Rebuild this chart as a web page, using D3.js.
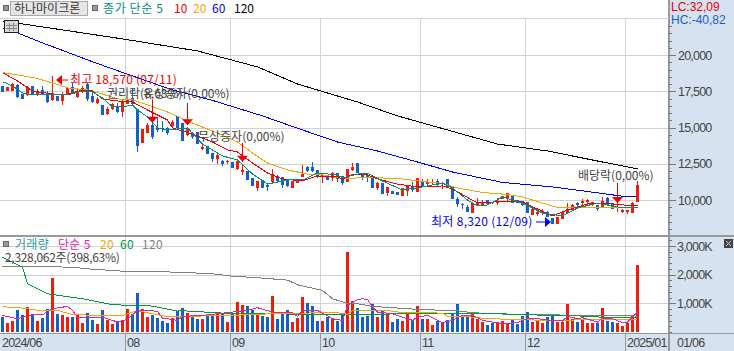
<!DOCTYPE html>
<html>
<head>
<meta charset="utf-8">
<script src="https://cdn.jsdelivr.net/npm/d3@7"></script>
<style>
html, body { margin: 0; padding: 0; background: #fff; overflow: hidden; }
svg { display: block; }
text { font-family: "Noto Sans CJK KR", "Liberation Sans", sans-serif; font-size: 12px; }
</style>
</head>
<body>
<div id="chart"></div>
<script>
// daily candles
var opens = [17870,17540,17520,17960,17290,17250,17870,17290,17590,17380,16900,17200,16850,17250,17770,17080,17430,18000,17200,16670,16580,15930,16280,16390,16070,16620,17020,16300,13960,14650,15180,14950,14950,14990,
  15110,15820,15340,14490,14600,14670,13540,13750,13220,12850,12670,12620,12650,12140,11930,12020,11520,10800,11380,11040,11240,11660,11560,11450,10850,11200,11590,12300,12250,12070,11560,11630,11500,11840,
  11680,11270,12070,12530,11730,11730,11660,10800,11200,10510,10640,10580,10300,10640,10970,10530,11330,11100,11200,11330,11080,11430,10870,10050,9720,9490,9130,9660,9660,10000,9890,9770,10050,10050,
  10350,10000,9950,9890,8970,9030,9130,9170,8740,8320,8690,9130,9310,9820,9820,9890,9770,9660,9430,10120,9770,9490,9150,9200,9130,9840];
var closes = [17480,17820,18000,17080,16970,17820,17270,17540,17310,16790,17380,16830,17310,17730,17480,17540,17700,16950,16760,16970,15840,16280,16600,16050,16790,16900,16600,13730,14900,15180,14320,14830,14880,14650,
  15400,14950,14050,14950,14370,13840,13680,13170,12830,13100,12460,12690,12210,12710,12090,11360,10970,11290,10800,10870,11790,11310,11010,10970,11290,11450,11790,12020,12000,11610,11700,11380,11890,11470,
  11150,12120,12300,11840,11560,11560,10850,11150,10410,10920,10440,10350,10800,10970,10690,11500,10970,11270,11270,11040,11150,10920,10090,9700,9660,9200,9770,9820,9890,9720,9770,9930,10280,10460,
  9770,9820,9660,9080,9360,9200,9240,8850,8320,8800,9150,9360,9660,9660,9950,10000,9840,9360,9950,9660,9380,9540,9310,9310,9820,11040];
var highs = [17870,17820,18050,18000,17290,17890,17870,17640,17870,17540,18570,17200,17480,17730,18100,17640,17870,18100,17480,17130,16580,16390,16670,16670,16900,16900,17700,16300,14900,15290,15300,15700,15470,15060,
  15520,15820,15340,15060,14720,14670,13840,13750,13220,13170,12760,12760,12650,12810,12420,12020,11520,11290,11380,11150,12120,11730,11610,11450,11290,11450,12420,12350,12650,12070,11730,11630,11960,11840,
  11680,12120,12530,12530,11840,11840,11660,11270,11200,10920,10640,10580,10800,10970,11270,11500,11430,11430,11430,11430,11270,11430,10870,10230,9820,9660,9770,10120,10000,10000,9890,10120,10280,10460,
  10350,10000,9950,9890,9360,9260,9360,9240,8740,8800,9150,9770,9720,9890,10050,10070,9890,9660,10180,10180,9770,9770,9380,9310,9890,11330];
var lows = [17480,17540,17520,17020,16970,17180,17270,17180,17310,16720,16850,16830,16560,17250,17480,17040,17360,16850,16670,16620,15840,15840,16210,16030,15700,16620,16600,13340,13960,14650,14190,14720,14720,14490,
  15010,14950,14050,14440,14190,13840,13450,13170,12650,12480,12370,12480,12210,12070,11700,11360,10970,10640,10800,10640,11200,11220,10800,10870,10850,11200,11560,11930,11960,11500,11200,11380,11310,11270,
  11040,11270,12000,11840,11380,11270,10850,10690,10410,10300,10440,10350,10300,10300,10580,10530,10970,10990,11080,10970,10760,10920,10090,9540,9360,9200,9130,9590,9590,9720,9700,9660,10050,9950,
  9770,9820,9590,9080,8970,8920,8970,8850,8320,8320,8690,9030,9310,9490,9660,9660,9610,9260,9430,9660,9380,9150,9080,9030,9130,9840];
// volume in thousands of shares
var volumes = [510,313,383,754,580,858,638,371,487,789,1868,615,580,510,510,603,302,650,406,267,754,406,267,336,429,789,615,1346,789,510,580,476,371,302,476,719,
  824,650,510,441,441,545,545,615,650,336,615,1032,928,893,754,615,545,510,1241,441,615,754,336,476,1206,998,893,371,371,510,476,371,580,2807,1067,824,
  510,545,963,510,719,650,336,441,371,615,406,893,441,441,232,371,302,406,615,963,545,545,650,441,336,232,302,336,371,302,406,267,545,684,336,406,
  302,510,545,336,336,963,441,336,441,302,302,302,824,371,336,302,197,302,545,2328];

// moving averages, read at a few bars each
var ma5Idx = [0,2,4,6,8,10,13,16,18,20,22,24,26,27,29,31,33,37,40,44,47,50,53,57,60,63,67,68,71,73,76,80,84,88,90,93,95,97,100,104,108,112,115,119,123,127];
var ma5 = [18160,17870,17380,17250,17310,17250,17250,17520,17450,17040,16420,16420,16560,16210,15730,14970,14830,14970,13860,13040,12760,11790,11100,11380,11380,11860,11730,11520,11790,11860,11310,10690,10900,11170,10830,10000,9590,9660,10210,9790,9100,8900,9450,9790,9520,9450];
var ma10Idx = [0,3,6,10,13,16,18,20,23,26,29,33,34,38,42,45,47,50,53,56,60,63,67,68,70,73,75,79,83,88,90,95,101,104,107,110,113,117,120,124,127];
var ma10 = [18780,18210,17520,17310,17310,17590,17520,16970,16830,16760,16210,15520,14970,14550,14000,13450,13310,12550,11860,11450,11310,11660,11590,11450,11760,11730,11450,11100,10900,10970,10760,9790,9930,9860,9380,8900,9310,9720,9790,9660,9590];
var ma20Idx = [0,3,7,10,13,17,20,23,26,29,33,38,42,47,50,53,57,61,64,67,68,72,76,80,84,88,91,96,101,104,108,111,116,122,127];
var ma20 = [18780,18630,18380,18070,17730,17590,17310,16970,16900,16560,16070,15310,14760,14000,13240,12550,12070,11790,11730,11550,11450,11550,11520,11450,11280,11140,10830,10520,10380,10210,9790,9480,9480,9480,9480];
var ma60Idx = [0,3,8,12,17,22,34,42,52,60,67,75,83,90,100,110,120,125,127];
var ma60 = [21870,21520,20830,20320,19660,19040,17590,16870,15800,14830,14000,13380,12620,11930,11210,10900,10450,10210,10210];
var ma120Idx = [0,12,24,39,51,59,71,79,99,109,119,127];
var ma120 = [22350,21730,21110,20280,19180,18000,16760,15800,13860,13380,12690,12140];

var volMa5Idx = [0,3,6,8,10,13,14,15,20,23,25,27,29,31,32,35,36,40,46,49,51,54,58,59,60,63,66,68,69,71,72,73,74,75,78,82,83,85,88,90,92,94,96,100,103,105,107,110,112,113,115,116,119,120,122,124,125,127];
var volMa5 = [580,464,603,603,812,893,754,522,522,348,441,754,754,719,487,406,545,580,696,754,847,696,673,545,754,754,464,406,928,1125,1160,1137,870,696,638,406,522,580,325,406,580,580,406,290,325,464,464,394,383,545,464,499,348,487,464,325,348,696];
var volMa20Idx = [0,4,8,11,14,20,24,27,29,33,36,46,54,58,66,69,70,78,80,88,89,94,97,105,108,112,115,127];
var volMa20 = [882,835,731,754,603,580,580,742,673,534,545,580,638,638,696,615,754,731,673,661,545,522,464,429,406,383,429,441];
var volMa60Idx = [0,4,5,9,16,22,30,35,36,46,71,95,107,113,122,127];
var volMa60 = [2610,2262,1682,1334,1160,951,905,731,742,638,615,661,592,580,499,522];
var volMa120Idx = [0,14,17,24,35,42,46,52,57,59,64,66,69,71,74,79,84,90,93,97,107,127];
var volMa120 = [2297,2262,2204,2123,2088,2030,1949,1879,1810,1647,1450,1160,998,986,893,835,777,754,696,638,603,557];

var priceTicks = [10000,12500,15000,17500,20000];
var priceMinor = d3.range(8000,22500,500);
var volTicks = [1000,2000,3000];
var volMinor = d3.range(0,3400,200);

// month labels and where they fall (bar index)
var monthLabels = ["2024/06","08","09","10","11","12","2025/01"];
var monthIdx = [-0.4,24.5,45.5,63.5,83.5,104.5,124.5];

// [bar index, price at arrow tip, price at stem top]
var eventArrows = [[30,15330,16870],[37,15150,16690],[48,12640,13940],[123,9800,11170]];
var eventLabels = [
  {text:"권리락(8,63%)", x:107, y:98},
  {text:"유상증자(0,00%)", x:143, y:98},
  {text:"무상증자(0,00%)", x:198, y:141},
  {text:"배당락(0,00%)", x:578, y:180}
];

var w = 734, h = 351;
var plotRight = 669;
var upColor = "#ee1c0c", downColor = "#1560c8", gridColor = "#d2d2d2", frameColor = "#999";

var x = d3.scaleLinear().domain([0,127]).range([2.5,637.5]);
var y = d3.scaleLinear().domain([10000,20000]).range([200,55]);
var yVol = d3.scaleLinear().domain([0,3000]).range([332,246]);

var svg = d3.select("#chart").append("svg").attr("width",w).attr("height",h);

// right and bottom bands
svg.append("rect").attr("x",plotRight).attr("y",0).attr("width",w-plotRight).attr("height",h).attr("fill","#d6e2f0");
svg.append("rect").attr("x",0).attr("y",333).attr("width",w).attr("height",18).attr("fill","#d6e2f0");

// grid
var grid = svg.append("g").attr("stroke",gridColor).attr("shape-rendering","crispEdges");
priceTicks.forEach(function(t) {
  grid.append("line").attr("x1",0).attr("x2",plotRight).attr("y1",Math.round(y(t))+0.5).attr("y2",Math.round(y(t))+0.5);
});
volTicks.forEach(function(t) {
  grid.append("line").attr("x1",0).attr("x2",plotRight).attr("y1",Math.round(yVol(t))+0.5).attr("y2",Math.round(yVol(t))+0.5);
});
monthIdx.slice(1).forEach(function(m) {
  var px = Math.round(x(m))+0.5;
  grid.append("line").attr("x1",px).attr("x2",px).attr("y1",18).attr("y2",333);
  svg.append("line").attr("x1",px).attr("x2",px).attr("y1",333).attr("y2",351).attr("stroke",frameColor).attr("shape-rendering","crispEdges");
});

function drawLine(xs, vals, scale, color) {
  var line = d3.line().x(function(d,i) { return x(xs[i]); }).y(function(d) { return scale(d); });
  svg.append("path").attr("d",line(vals)).attr("fill","none").attr("stroke",color)
    .attr("stroke-width",1).attr("shape-rendering","crispEdges");
}

drawLine(ma120Idx,ma120,y,"#000");
drawLine(ma60Idx,ma60,y,"#0000f0");

// candles
var candles = svg.append("g").attr("shape-rendering","crispEdges");
opens.forEach(function(o,i) {
  var c = closes[i];
  var color = c >= o ? upColor : downColor;
  candles.append("line").attr("x1",x(i)).attr("x2",x(i)).attr("y1",y(highs[i])).attr("y2",y(lows[i])).attr("stroke",color);
  candles.append("rect").attr("x",x(i)-1.5).attr("width",3)
    .attr("y",y(Math.max(o,c))).attr("height",Math.max(1,Math.abs(y(o)-y(c)))).attr("fill",color);
});

drawLine(ma20Idx,ma20,y,"#f0a800");
drawLine(ma10Idx,ma10,y,"#f00000");
drawLine(ma5Idx,ma5,y,"#008c80");

// volume
var bars = svg.append("g").attr("shape-rendering","crispEdges");
volumes.forEach(function(v,i) {
  bars.append("rect").attr("x",x(i)-1.5).attr("width",3)
    .attr("y",yVol(v)).attr("height",yVol(0)-yVol(v))
    .attr("fill",closes[i] >= opens[i] ? upColor : downColor);
});
drawLine(volMa120Idx,volMa120,yVol,"#808080");
drawLine(volMa60Idx,volMa60,yVol,"#009a40");
drawLine(volMa20Idx,volMa20,yVol,"#f0a800");
drawLine(volMa5Idx,volMa5,yVol,"#e020b0");

// event arrows
eventArrows.forEach(function(a) {
  var px = x(a[0]);
  svg.append("line").attr("x1",px).attr("x2",px).attr("y1",y(a[2])).attr("y2",y(a[1])).attr("stroke","#f00000").attr("shape-rendering","crispEdges");
  svg.append("path").attr("fill","#f00000")
    .attr("d","M"+(px-5.5)+","+(y(a[1])-6)+"L"+(px+5.5)+","+(y(a[1])-6)+"L"+px+","+y(a[1])+"Z");
});
eventLabels.forEach(function(l) {
  svg.append("text").attr("x",l.x).attr("y",l.y).attr("fill","#444").text(l.text);
});

// high and low markers
svg.append("path").attr("fill","#f00000").attr("d","M56,80L62,75L62,85Z");
svg.append("rect").attr("x",62).attr("y",79.5).attr("width",6).attr("height",1).attr("fill","#f00000");
svg.append("text").attr("x",70).attr("y",84).attr("fill","#f00000").style("letter-spacing","0.2px").text("최고 18,570 (07/11)");
svg.append("path").attr("fill","#0000f0").attr("d","M551,222L545,217L545,227Z");
svg.append("rect").attr("x",536).attr("y",221.5).attr("width",9).attr("height",1).attr("fill","#0000f0");
svg.append("text").attr("x",431).attr("y",226).attr("fill","#0000f0").style("letter-spacing","0.3px").text("최저 8,320 (12/09)");

// frame
var frame = svg.append("g").attr("stroke",frameColor).attr("shape-rendering","crispEdges");
frame.append("line").attr("x1",0).attr("x2",w).attr("y1",235.5).attr("y2",235.5).attr("stroke-width",2);
frame.append("line").attr("x1",0).attr("x2",w).attr("y1",333.5).attr("y2",333.5);
frame.append("line").attr("x1",plotRight).attr("x2",plotRight).attr("y1",0).attr("y2",h).attr("stroke-width",2);

// price and volume axes
function styleAxis(g) {
  g.select(".domain").remove();
  g.selectAll("line").attr("stroke","#777").attr("shape-rendering","crispEdges");
  g.selectAll("text").attr("fill","#444").style("font-size","12.5px").style("letter-spacing","-0.8px").style("font-family","'Liberation Sans',sans-serif");
}
var priceMinorFiltered = priceMinor.filter(function(t) { return priceTicks.indexOf(t) < 0 && y(t) > 20 && y(t) < 234; });
var volMinorFiltered = volMinor.filter(function(t) { return volTicks.indexOf(t) < 0; });
svg.append("g").attr("transform","translate("+plotRight+",0)")
  .call(d3.axisRight(y).tickValues(priceMinorFiltered).tickSize(3).tickFormat("")).call(styleAxis);
svg.append("g").attr("transform","translate("+plotRight+",0)")
  .call(d3.axisRight(y).tickValues(priceTicks).tickSize(7).tickPadding(2).tickFormat(d3.format(","))).call(styleAxis);
svg.append("g").attr("transform","translate("+plotRight+",0)")
  .call(d3.axisRight(yVol).tickValues(volMinorFiltered).tickSize(3).tickFormat("")).call(styleAxis);
svg.append("g").attr("transform","translate("+plotRight+",0)")
  .call(d3.axisRight(yVol).tickValues(volTicks).tickSize(7).tickPadding(1).tickFormat(function(d) { return d3.format(",")(d)+"K"; })).call(styleAxis);

// month labels
function monthText(label, px) {
  svg.append("text").attr("x",px).attr("y",347).attr("fill","#444")
    .style("font-family","'Liberation Sans',sans-serif").style("font-size","12.5px").style("letter-spacing","-0.8px").text(label);
}
monthLabels.forEach(function(m,i) {
  monthText(m, i == 0 ? 2 : Math.round(x(monthIdx[i]))+2);
});
monthText("01/06",677);

// top legend
svg.append("rect").attr("x",3.5).attr("y",5.5).attr("width",5).attr("height",5).attr("fill","#999").attr("stroke","#666").attr("shape-rendering","crispEdges");
svg.append("rect").attr("x",10.5).attr("y",1.5).attr("width",77).attr("height",14).attr("fill","#e6e6e6").attr("stroke","#aaa").attr("shape-rendering","crispEdges");
svg.append("text").attr("x",14).attr("y",13).attr("fill","#333").text("하나마이크론");
svg.append("rect").attr("x",92.5).attr("y",5.5).attr("width",5).attr("height",5).attr("fill","#999").attr("stroke","#666").attr("shape-rendering","crispEdges");
var topLegend = [["종가 단순 5",103,"#008c80"],["10",174,"#f00000"],["20",193,"#f0a800"],["60",212,"#0000f0"],["120",234,"#000"]];
topLegend.forEach(function(l,i) {
  svg.append("text").attr("x",l[1]).attr("y",13).attr("fill",l[2]).style("letter-spacing",i == 0 ? "0.6px" : "0").text(l[0]);
});
svg.append("line").attr("x1",0).attr("x2",plotRight).attr("y1",18.5).attr("y2",18.5).attr("stroke",gridColor).attr("shape-rendering","crispEdges");

// table icon over the top-left corner
var icon = svg.append("g").attr("shape-rendering","crispEdges");
icon.append("rect").attr("x",4.5).attr("y",20.5).attr("width",14).attr("height",12).attr("fill","#d8d8d8").attr("stroke","#222");
[9,13].forEach(function(p) {
  icon.append("line").attr("x1",p+0.5).attr("x2",p+0.5).attr("y1",23).attr("y2",31).attr("stroke","#888");
});
[25,28].forEach(function(p) {
  icon.append("line").attr("x1",6).attr("x2",17).attr("y1",p+0.5).attr("y2",p+0.5).attr("stroke","#888");
});

// volume legend
svg.append("rect").attr("x",3.5).attr("y",241.5).attr("width",5).attr("height",5).attr("fill","#999").attr("stroke","#666").attr("shape-rendering","crispEdges");
var volLegend = [["거래량",15,"#2a9d9d"],["단순 5",58,"#e020b0"],["20",100,"#f0a800"],["60",120,"#009a40"],["120",142,"#808080"]];
volLegend.forEach(function(l) {
  svg.append("text").attr("x",l[1]).attr("y",249).attr("fill",l[2]).style("letter-spacing","0.3px").text(l[0]);
});
svg.append("text").attr("x",5).attr("y",262).attr("fill","#444").style("letter-spacing","-0.3px").text("2,328,062주(398,63%)");

// right side readouts
svg.append("text").attr("x",671).attr("y",11).attr("fill","#f00000").style("font-family","'Liberation Sans',sans-serif").text("LC:32,09");
svg.append("text").attr("x",671).attr("y",24).attr("fill","#1560c8").style("font-family","'Liberation Sans',sans-serif").text("HC:-40,82");

// small close icon
svg.append("rect").attr("x",724).attr("y",239).attr("width",9).attr("height",9).attr("fill","#444");
svg.append("path").attr("d","M726,241L731,246M731,241L726,246").attr("stroke","#ccc").attr("fill","none");
</script>
</body>
</html>
